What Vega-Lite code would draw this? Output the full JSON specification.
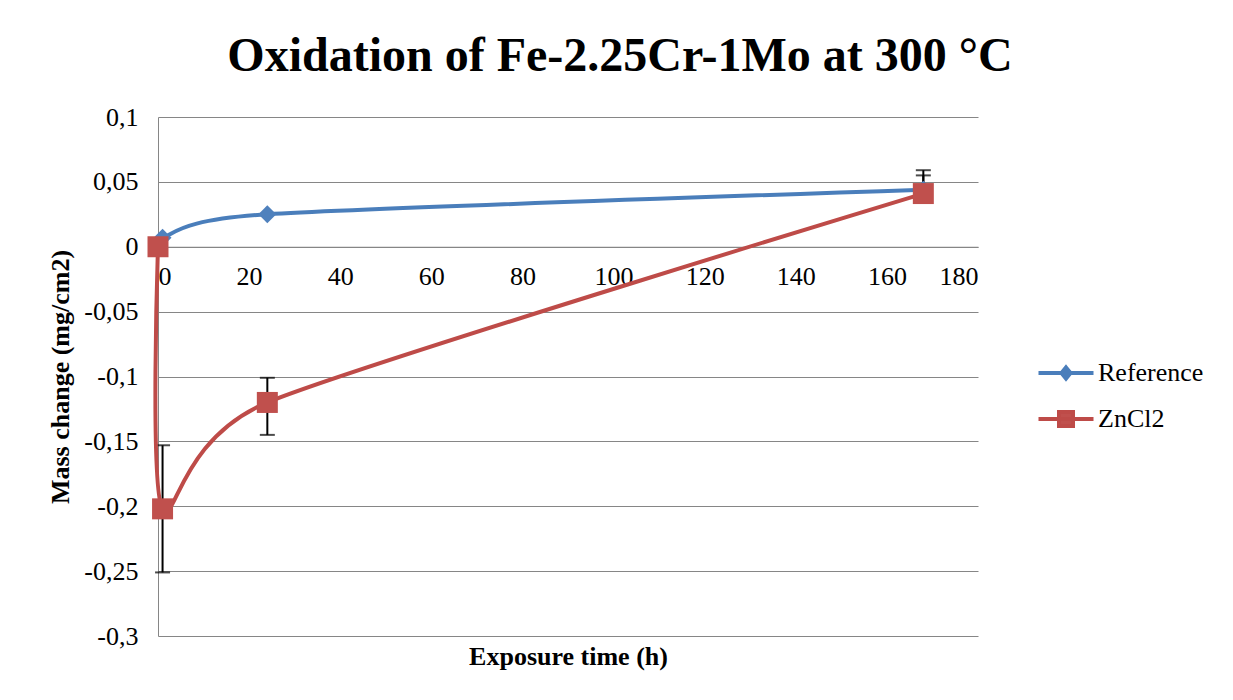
{
  "$schema": "https://vega.github.io/schema/vega-lite/v6.json",
  "autosize": {"type": "none"},
  "width": 820,
  "height": 519,
  "padding": {"left": 158, "top": 117, "right": 255, "bottom": 64},
  "background": "white",
  "title": {
    "text": "Oxidation of Fe-2.25Cr-1Mo at 300 °C",
    "font": "Liberation Serif",
    "fontSize": 48,
    "fontWeight": "bold",
    "color": "black",
    "anchor": "middle",
    "frame": "group",
    "dx": 52,
    "baseline": "alphabetic",
    "offset": -15
  },
  "datasets": {
    "series": [
      {"series": "Reference", "t": 0, "v": 0},
      {"series": "Reference", "t": 1, "v": 0.007},
      {"series": "Reference", "t": 24, "v": 0.025},
      {"series": "Reference", "t": 168, "v": 0.044},
      {"series": "ZnCl2", "t": 0, "v": 0},
      {"series": "ZnCl2", "t": 1, "v": -0.202},
      {"series": "ZnCl2", "t": 24, "v": -0.12},
      {"series": "ZnCl2", "t": 168, "v": 0.041}
    ],
    "errors": [
      {"t": 1, "lo": -0.251, "hi": -0.153},
      {"t": 24, "lo": -0.145, "hi": -0.101},
      {"t": 168, "lo": 0.041, "hi": 0.059},
      {"t": 168, "lo": 0.044, "hi": 0.055}
    ]
  },
  "config": {
    "font": "Liberation Serif",
    "view": {"stroke": null},
    "axis": {
      "labelFont": "Liberation Serif",
      "labelFontSize": 26,
      "labelColor": "black",
      "titleFont": "Liberation Serif",
      "titleFontSize": 26,
      "titleFontWeight": "bold",
      "titleColor": "black",
      "domainColor": "#868686",
      "domainWidth": 1,
      "gridColor": "#868686",
      "gridWidth": 1,
      "ticks": false
    },
    "legend": {
      "orient": "none",
      "legendX": 895,
      "legendY": 243,
      "title": null,
      "padding": 0,
      "labelFont": "Liberation Serif",
      "labelFontSize": 26,
      "labelColor": "black",
      "symbolSize": 400,
      "symbolStrokeWidth": 4,
      "symbolOpacity": 1,
      "labelOffset": 19,
      "rowPadding": 17
    }
  },
  "layer": [
    {
      "data": {"name": "errors"},
      "mark": {
        "type": "errorbar",
        "color": "black",
        "ticks": {"size": 15, "thickness": 2, "color": "black"},
        "rule": {"strokeWidth": 2, "color": "black"}
      },
      "encoding": {
        "x": {"field": "t", "type": "quantitative", "title": "Exposure time (h)", "scale": {"domain": [0, 180], "nice": false}},
        "y": {"field": "lo", "type": "quantitative", "title": "Mass change (mg/cm2)", "scale": {"domain": [-0.3, 0.1], "nice": false}},
        "y2": {"field": "hi"}
      }
    },
    {
      "data": {"name": "series"},
      "transform": [{"filter": {"field": "series", "equal": "Reference"}}],
      "mark": {"type": "line", "interpolate": "cardinal", "tension": 0.3, "strokeWidth": 4, "color": "#4A7EBB"},
      "encoding": {
        "x": {
          "field": "t",
          "type": "quantitative",
          "title": "Exposure time (h)",
          "scale": {"domain": [0, 180], "nice": false},
          "axis": {
            "values": [0, 20, 40, 60, 80, 100, 120, 140, 160, 180],
            "offset": -389.25,
            "grid": false,
            "labelPadding": 17,
            "titleY": 410,
            "titleBaseline": "middle"
          }
        },
        "y": {
          "field": "v",
          "type": "quantitative",
          "title": "Mass change (mg/cm2)",
          "scale": {"domain": [-0.3, 0.1], "nice": false},
          "axis": {
            "values": [-0.3, -0.25, -0.2, -0.15, -0.1, -0.05, 0, 0.05, 0.1],
            "grid": true,
            "labelPadding": 20,
            "labelExpr": "(datum.value < 0 ? '-' : '') + replace(format(abs(datum.value), '~g'), '.', ',')",
            "titleX": -98,
            "titleY": 259.5,
            "titleAngle": -90,
            "titleAlign": "center",
            "titleBaseline": "middle"
          }
        }
      }
    },
    {
      "data": {"name": "series"},
      "transform": [{"filter": {"field": "series", "equal": "ZnCl2"}}],
      "mark": {"type": "line", "interpolate": "cardinal", "tension": 0.3, "strokeWidth": 4, "color": "#BE4B48"},
      "encoding": {
        "x": {"field": "t", "type": "quantitative", "title": "Exposure time (h)"},
        "y": {"field": "v", "type": "quantitative", "title": "Mass change (mg/cm2)"}
      }
    },
    {
      "data": {"name": "series"},
      "transform": [{"filter": {"field": "series", "equal": "Reference"}}],
      "mark": {"type": "point", "shape": "diamond", "filled": true, "opacity": 1, "size": 320, "color": "#4F81BD"},
      "encoding": {
        "x": {"field": "t", "type": "quantitative", "title": "Exposure time (h)"},
        "y": {"field": "v", "type": "quantitative", "title": "Mass change (mg/cm2)"}
      }
    },
    {
      "data": {"name": "series"},
      "transform": [{"filter": {"field": "series", "equal": "ZnCl2"}}],
      "mark": {"type": "point", "shape": "square", "filled": true, "opacity": 1, "size": 441, "color": "#C0504D"},
      "encoding": {
        "x": {"field": "t", "type": "quantitative", "title": "Exposure time (h)"},
        "y": {"field": "v", "type": "quantitative", "title": "Mass change (mg/cm2)"}
      }
    },
    {
      "data": {"name": "series"},
      "mark": {"type": "point", "filled": true, "opacity": 0, "strokeWidth": 4},
      "encoding": {
        "x": {"field": "t", "type": "quantitative", "title": "Exposure time (h)"},
        "y": {"field": "v", "type": "quantitative", "title": "Mass change (mg/cm2)"},
        "fill": {
          "field": "series",
          "type": "nominal",
          "scale": {"domain": ["Reference", "ZnCl2"], "range": ["#4F81BD", "#C0504D"]}
        },
        "stroke": {
          "field": "series",
          "type": "nominal",
          "scale": {"domain": ["Reference", "ZnCl2"], "range": ["#4A7EBB", "#BE4B48"]}
        },
        "shape": {
          "field": "series",
          "type": "nominal",
          "scale": {
            "domain": ["Reference", "ZnCl2"],
            "range": [
              "M-2.75,0L2.75,0M0,-0.55L0.45,0L0,0.55L-0.45,0Z",
              "M-2.75,0L2.75,0M-0.7,-0.7L0.7,-0.7L0.7,0.7L-0.7,0.7Z"
            ]
          }
        }
      }
    }
  ]
}
